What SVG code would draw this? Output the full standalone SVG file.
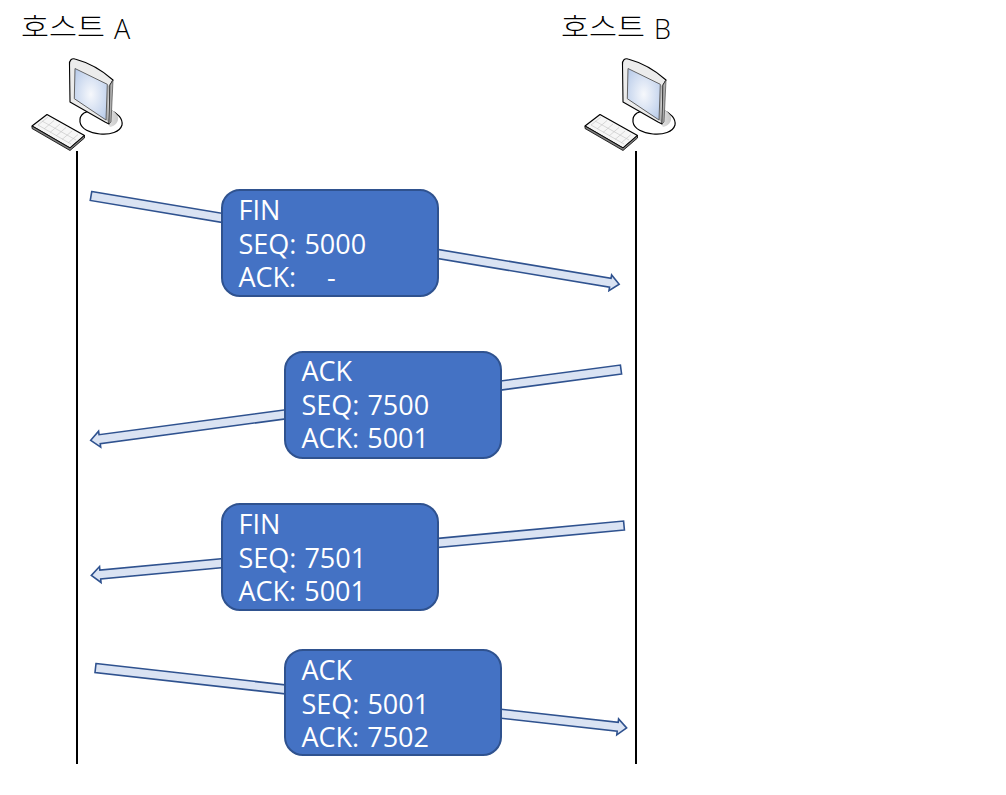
<svg xmlns="http://www.w3.org/2000/svg" xmlns:xlink="http://www.w3.org/1999/xlink" width="1006" height="795" viewBox="0 0 1006 795">
<style>
.t{font-family:"Open Sans","Noto Sans","Noto Sans CJK KR",sans-serif;font-size:27px;fill:#fff;word-spacing:1px}
.h{font-family:"Noto Sans CJK KR","Noto Sans",sans-serif;font-size:27px;font-weight:300;fill:#000}
.l{font-family:"Open Sans","Noto Sans",sans-serif;font-size:27px;font-weight:300;fill:#000}
.box{fill:#4472c4;stroke:#2f528f;stroke-width:2}
.arrow{fill:#dae3f3;stroke:#2f528f;stroke-width:1.6;stroke-linejoin:miter}
.life{stroke:#000;stroke-width:2;fill:none}
</style>
<defs>
<radialGradient id="scr" cx=".5" cy=".5" r=".7"><stop offset="0" stop-color="#f6f8fc"/><stop offset="1" stop-color="#b4c8e8"/></radialGradient>
<linearGradient id="stand" x1="0" y1="0" x2="1" y2="0"><stop offset="0" stop-color="#f4f4f4"/><stop offset="1" stop-color="#c8c8c8"/></linearGradient>
<g id="pc">
<path d="M84,113C92,109 100,108 110,110C118,113 123,119 122,125C120,132 110,135 100,134C90,133 81,129 80,122C79.500,118 81,115 84,113Z" fill="#fff" stroke="#000" stroke-width="1.2"/>
<path d="M101,118L108,124L110,127C115,126 119,122 118,117C116,112 111,109 108,108Z" fill="url(#stand)"/>
<path d="M69.500,65C69,60 72,58 75,59C90,63 103,71 113,80L110,85L109,124L105,122L70,102Z" fill="#ececec" stroke="#000" stroke-width="1.1" stroke-linejoin="round"/>
<path d="M109,124L110,85L113,80L111,122Z" fill="#b0b0b0" stroke="#333" stroke-width=".6" stroke-linejoin="round"/>
<path d="M107.500,84.500L109,86L108,122L106,120Z" fill="#b4b4b4"/>
<path d="M75,68.500L107.300,84.300L106,120L74.300,98.700Z" fill="url(#scr)" stroke="#555" stroke-width=".9"/>
<path d="M32,126L47,114.500L84.500,135.500L70,148Z" fill="#f6f6f6" stroke="#000" stroke-width="1.2" stroke-linejoin="round"/>
<path d="M32,126L32,128.500L70,150.500L84.500,138L84.500,135.500L70,148Z" fill="#808080" stroke="#000" stroke-width=".8" stroke-linejoin="round"/>
<path d="M38,125L48,117M44,129L54,120.500M50,132.500L60,124M56,136L66,127.500M62,139.500L72,131M68,143L78,134.500M42,121L76,140M38,125L71,144" stroke="#c8c8c8" stroke-width=".7" fill="none"/>
</g>
</defs>
<g id="host-a">
<text class="h" x="21" y="37" textLength="84" lengthAdjust="spacingAndGlyphs">호스트</text>
<text class="l" x="114" y="39">A</text>
<use xlink:href="#pc" href="#pc"/>
</g>
<g id="host-b">
<text class="h" x="561" y="37" textLength="84" lengthAdjust="spacingAndGlyphs">호스트</text>
<text class="l" x="654" y="39">B</text>
<use xlink:href="#pc" href="#pc" x="553"/>
</g>
<g id="connectors">
<line class="life" x1="77" y1="151" x2="77" y2="764"/>
<line class="life" x1="636" y1="151" x2="636" y2="764"/>
<path class="arrow" transform="translate(91 196) rotate(9.49)" d="M0,-4.500H526.500V-8L535.500,0L526.500,8V4.500H0Z"/>
<path class="arrow" transform="translate(621 369.500) rotate(172.39)" d="M0,-4.500H526V-8L535,0L526,8V4.500H0Z"/>
<path class="arrow" transform="translate(624 525.500) rotate(174.65)" d="M0,-4.500H526V-8L535,0L526,8V4.500H0Z"/>
<path class="arrow" transform="translate(95.500 668) rotate(6.43)" d="M0,-4.500H525.500V-8L534.500,0L525.500,8V4.500H0Z"/>
</g>
<g id="msg-1">
<rect class="box" x="222" y="190" width="216" height="106" rx="18"/>
<text class="t" x="238.500" y="219.500">FIN</text>
<text class="t" x="238.500" y="254">SEQ: 5000</text>
<text class="t" x="238.500" y="286.500">ACK:</text>
<text class="t" x="327" y="286.500">-</text>
</g>
<g id="msg-2">
<rect class="box" x="285" y="352" width="216" height="106" rx="18"/>
<text class="t" x="301.500" y="381">ACK</text>
<text class="t" x="301.500" y="415">SEQ: 7500</text>
<text class="t" x="301.500" y="448">ACK: 5001</text>
</g>
<g id="msg-3">
<rect class="box" x="222" y="504" width="216" height="106" rx="18"/>
<text class="t" x="238.500" y="534">FIN</text>
<text class="t" x="238.500" y="568">SEQ: 7501</text>
<text class="t" x="238.500" y="601">ACK: 5001</text>
</g>
<g id="msg-4">
<rect class="box" x="285" y="650" width="216" height="105" rx="18"/>
<text class="t" x="301.500" y="680">ACK</text>
<text class="t" x="301.500" y="714">SEQ: 5001</text>
<text class="t" x="301.500" y="747">ACK: 7502</text>
</g>
</svg>
